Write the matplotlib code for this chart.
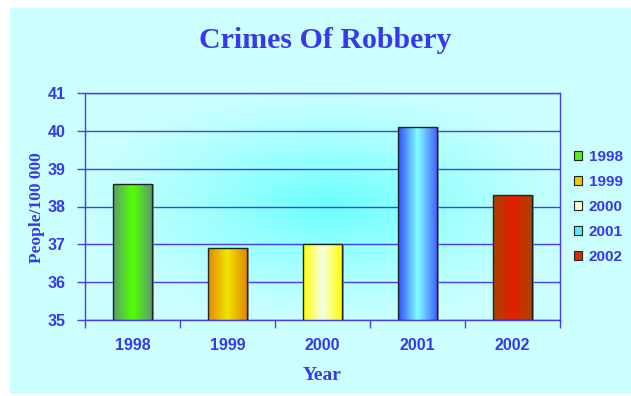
import matplotlib.pyplot as plt
import numpy as np
from matplotlib.patches import Rectangle
from matplotlib.colors import LinearSegmentedColormap

# Robbery rate per year
years = ['1998', '1999', '2000', '2001', '2002']
rates = [38.6, 36.9, 37.0, 40.1, 38.3]

# edge / centre / edge colours of each bar's shading
bar_shades = [
    ['#5a9e6e', '#55ff00', '#5a9e6e'],
    ['#e08a00', '#f2e400', '#e08a00'],
    ['#ffff00', '#f4ffe6', '#ffff00'],
    ['#2c4cff', '#80ffff', '#4466ff'],
    ['#a84400', '#e81c00', '#a84400'],
]
legend_colors = ['#55ee22', '#f0c800', '#ffffcc', '#66e6ff', '#dd2a00']

text_blue = '#3838ee'
grid_blue = '#4a3cf5'
num_font = 'Liberation Sans'
num_size = 11.5

fig = plt.figure(figsize=(6.31, 3.96), dpi=100)
fig.patch.set_facecolor('white')

# background panel with a soft radial cyan glow
bg = fig.add_axes([0, 0, 1, 1])
bg.set_xlim(0, 631)
bg.set_ylim(396, 0)
bg.axis('off')
xx, yy = np.meshgrid(np.arange(10, 631), np.arange(8, 394))
d = np.sqrt(((xx - 330) / 260.0) ** 2 + ((yy - 205) / 120.0) ** 2)
t = np.clip(1 - d, 0, 1) ** 1.2
c0 = np.array([0.80, 1.0, 1.0])
c1 = np.array([0.42, 1.0, 1.0])
img = c0[None, None, :] * (1 - t[..., None]) + c1[None, None, :] * t[..., None]
bg.imshow(img, extent=(10, 631, 394, 8), aspect='auto', interpolation='bilinear')

ax = fig.add_axes([85 / 631, 1 - 320 / 396, 475 / 631, 227 / 396])
ax.set_facecolor('none')

x = np.arange(len(years))
bars = ax.bar(x, [r - 35 for r in rates], bottom=35, width=0.41,
              color='none', edgecolor='#222222', linewidth=1.0, zorder=4)

for b, shade in zip(bars, bar_shades):
    x0, y0 = b.get_x(), b.get_y()
    w, h = b.get_width(), b.get_height()
    # drop shadow on the right
    ax.add_patch(Rectangle((x0 + 0.025, y0), w, h, facecolor='#777777',
                           edgecolor='none', alpha=0.7, zorder=2))
    cmap = LinearSegmentedColormap.from_list('s', shade)
    grad = np.linspace(0, 1, 64)[None, :]
    im = ax.imshow(grad, cmap=cmap, extent=(x0, x0 + w, y0, y0 + h),
                   aspect='auto', zorder=3, interpolation='bilinear')
    im.set_clip_path(Rectangle((x0, y0), w, h, transform=ax.transData))

ax.set_xlim(-0.5, len(years) - 0.5)
ax.set_ylim(35, 41)

ax.set_yticks(np.arange(35, 42))
ax.yaxis.grid(True, color=grid_blue, linewidth=1.0, zorder=1)
ax.set_axisbelow(True)
ax.set_xticks(x)
ax.set_xticklabels(years)
ax.set_xticks(np.arange(-0.5, len(years)), minor=True)
ax.tick_params(axis='x', which='major', length=0, pad=13)
ax.tick_params(axis='x', which='minor', length=6, color=grid_blue, width=1)
ax.tick_params(axis='y', length=6, color=grid_blue, width=1, pad=8)
for lab in ax.get_xticklabels() + ax.get_yticklabels():
    lab.set_fontweight('bold')
    lab.set_fontsize(num_size)
    lab.set_family(num_font)
    lab.set_color(text_blue)
for s in ax.spines.values():
    s.set_color(grid_blue)
    s.set_linewidth(1.0)

fig.text(325 / 631, 1 - 40 / 396, 'Crimes Of Robbery', ha='center', va='center',
         fontsize=21.5, fontweight='bold', family='Liberation Serif', color=text_blue)
fig.text(322 / 631, 1 - 375 / 396, 'Year', ha='center', va='center',
         fontsize=14, fontweight='bold', family='Liberation Serif', color=text_blue)
fig.text(37 / 631, 1 - 208 / 396, 'People/100 000', ha='center', va='center',
         rotation=90, fontsize=12.5, fontweight='bold', family='Liberation Serif',
         color=text_blue)

handles = [Rectangle((0, 0), 1, 1, facecolor=c, edgecolor='#222222', linewidth=0.8)
           for c in legend_colors]
leg = fig.legend(handles, years, loc='center left',
                 bbox_to_anchor=(574 / 631, 1 - 207 / 396), frameon=False,
                 borderaxespad=0, borderpad=0,
                 handlelength=0.55, handleheight=0.55, handletextpad=0.4,
                 labelspacing=0.72, prop={'weight': 'bold', 'size': 11,
                                          'family': num_font})
for txt in leg.get_texts():
    txt.set_color(text_blue)

fig.savefig('out.png', dpi=100)
